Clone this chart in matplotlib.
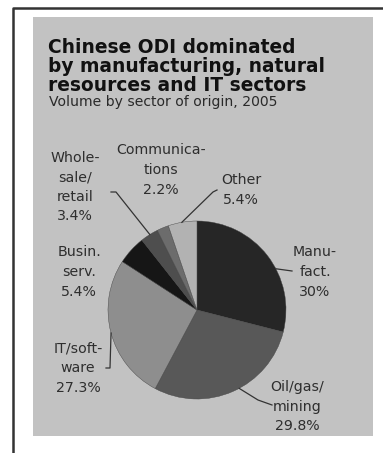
import numpy as np
import matplotlib
matplotlib.use("Agg")
import matplotlib.pyplot as plt
from matplotlib.patches import Rectangle

# data, clockwise from 12 o'clock
sectors = ["Manufact.", "Oil/gas/mining", "IT/software", "Busin. serv.",
           "Wholesale/retail", "Communications", "Other"]
shares = [30.0, 29.8, 27.3, 5.4, 3.4, 2.2, 5.4]
labels = ["Manu-\nfact.\n30%", "Oil/gas/\nmining\n29.8%", "IT/soft-\nware\n27.3%",
          "Busin.\nserv.\n5.4%", "Whole-\nsale/\nretail\n3.4%",
          "Communica-\ntions\n2.2%", "Other\n5.4%"]
colors = ["#262626", "#585858", "#8e8e8e", "#161616", "#4e4e4e", "#6c6c6c", "#b2b2b2"]
title_lines = ["Chinese ODI dominated", "by manufacturing, natural", "resources and IT sectors"]
subtitle = "Volume by sector of origin, 2005"

W, H = 383, 453
fig = plt.figure(figsize=(W / 100, H / 100), dpi=100)
fig.patch.set_facecolor("white")

# page layer in pixel coords
bg = fig.add_axes([0, 0, 1, 1])
bg.set_xlim(0, W)
bg.set_ylim(H, 0)
bg.axis("off")
bg.plot([12.5, 12.5, W], [H, 7.5, 7.5], color="#333333", lw=1.8, solid_capstyle="butt")
bg.add_patch(Rectangle((33, 17), 340, 419, facecolor="#c2c2c2", edgecolor="none"))

for i, line in enumerate(title_lines):
    bg.text(48, 53 + 19 * i, line, fontsize=13.4, fontweight="bold", color="#111111",
            ha="left", va="baseline")
bg.text(49, 106, subtitle, fontsize=10.1, color="#2a2a2a", ha="left", va="baseline")

# pie: centre (197, 310), radius 89 px
cx, cy, r = 197, 310, 89
pax = fig.add_axes([(cx - r) / W, (H - cy - r) / H, 2 * r / W, 2 * r / H])
wedges, _ = pax.pie(shares, colors=colors, startangle=90, counterclock=False,
                    wedgeprops=dict(edgecolor="#444444", linewidth=0.3))
pax.set_xlim(-1, 1)
pax.set_ylim(-1, 1)
pax.set_aspect("equal")
pax.axis("off")


def px(x, y):
    return ((x - cx) / r, (cy - y) / r)


# label centres in page pixels
label_pos = [(315, 272), (297, 407), (78, 368), (79, 272), (75, 187), (161, 170), (241, 190)]
for lab, (x, y) in zip(labels, label_pos):
    pax.text(*px(x, y), lab, ha="center", va="center", fontsize=10.2, color="#2e2e2e",
             linespacing=1.5, clip_on=False)

# leader lines: (angle on rim in deg, points in page pixels)
leaders = [
    (27.6, [(292, 271)]),
    (-61.7, [(258, 400), (272, 405)]),
    (195.0, [(110, 368), (106, 368)]),
    (122.0, [(116, 192), (111, 192)]),
    (99.8, [(213, 192), (217, 190)]),
]
for ang, pts in leaders:
    a = np.deg2rad(ang)
    xs = [np.cos(a)] + [px(*p)[0] for p in pts]
    ys = [np.sin(a)] + [px(*p)[1] for p in pts]
    pax.plot(xs, ys, color="#333333", lw=0.9, clip_on=False)

fig.savefig("out.png", dpi=100, facecolor="white")
